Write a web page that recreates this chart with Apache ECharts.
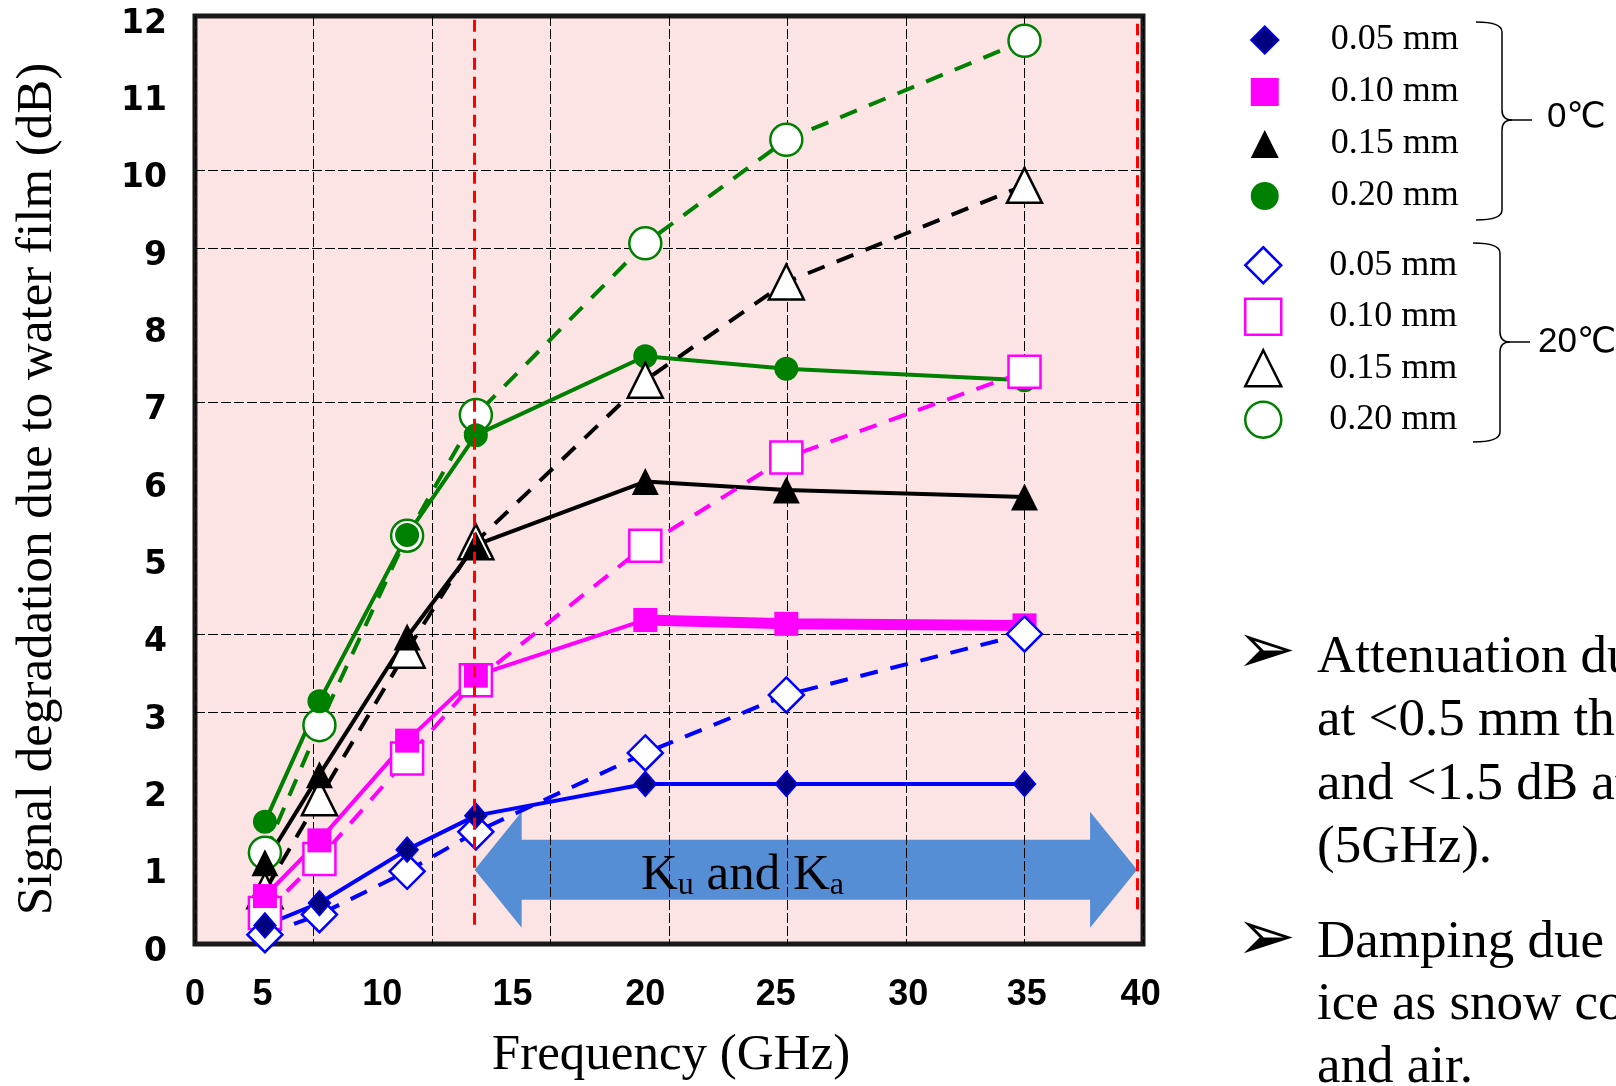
<!DOCTYPE html>
<html>
<head>
<meta charset="utf-8">
<script src="https://cdn.jsdelivr.net/npm/echarts@6/dist/echarts.min.js"></script>
<style>
  html, body { margin: 0; padding: 0; background: #fff; }
  #chart { width: 1616px; height: 1086px; }
</style>
</head>
<body>
<div id="chart"></div>
<script>
// horizontal place of the 7 measured frequencies on the (unevenly labelled) axis
const xPos = [2.95, 5.25, 8.95, 11.85, 19.0, 24.95, 35.0]
// tick labels as printed, and where they sit on the axis
const xTickPos = [0, 2.85, 7.9, 13.4, 19.0, 24.5, 30.1, 35.1, 39.9]
const xTickText = ['0', '5', '10', '15', '20', '25', '30', '35', '40']

// signal degradation (dB), water film at 0°C
const cold05 = [0.24, 0.53, 1.22, 1.66, 2.07, 2.07, 2.07]
const cold10 = [0.62, 1.34, 2.63, 3.47, 4.19, 4.14, 4.12]
const cold15 = [1.05, 2.19, 3.97, 5.16, 5.98, 5.87, 5.78]
const cold20 = [1.58, 3.14, 5.29, 6.58, 7.60, 7.44, 7.29]
// water film at 20°C
const warm05 = [0.12, 0.38, 0.94, 1.45, 2.47, 3.22, 4.01]
const warm10 = [0.40, 1.10, 2.40, 3.41, 5.15, 6.29, 7.40]
const warm15 = [0.69, 1.89, 3.80, 5.20, 7.29, 8.56, 9.81]
const warm20 = [1.18, 2.83, 5.28, 6.84, 9.06, 10.40, 11.68]

const yGridRows = [3, 4, 7, 9, 10] // only these horizontal grid lines are drawn
const kuKaEdges = [11.8, 39.75]     // red dashed limits of the Ku / Ka band
const arrowLevel = 0.96
const arrowTextAt = 23.1

const serif = '"Liberation Serif", "Times New Roman", serif'
const sans = '"Liberation Sans", Arial, sans-serif'

const chart = echarts.init(document.getElementById('chart'))

const pairs = vals => xPos.map((x, i) => [x, vals[i]])

// one line series; hollow markers get a white fill and coloured edge
function lineSeries(name, vals, color, symbol, size, hollow, dashed, fill) {
  return {
    name: name,
    type: 'line',
    data: pairs(vals),
    symbol: symbol,
    symbolSize: size,
    clip: false,
    z: 2,
    lineStyle: { color: color, width: 4, type: dashed ? [18, 13] : 'solid' },
    itemStyle: hollow
      ? { color: '#ffffff', borderColor: color, borderWidth: 2.5 }
      : { color: fill || color, borderColor: color, borderWidth: fill ? 1.5 : 0 },
    emphasis: { disabled: true }
  }
}

const series = [
  lineSeries('0.20 mm|20', warm20, '#008000', 'circle', 32, true, true),
  lineSeries('0.20 mm|0', cold20, '#008000', 'circle', 24, false, false),
  lineSeries('0.15 mm|20', warm15, '#000000', 'triangle', 35, true, true),
  lineSeries('0.15 mm|0', cold15, '#000000', 'triangle', 27, false, false),
  lineSeries('0.10 mm|20', warm10, '#ff00ff', 'rect', 32, true, true),
  {
    // thick part of the 0°C 0.10 mm curve (20 GHz onwards)
    type: 'line',
    data: pairs(cold10).slice(4),
    showSymbol: false,
    clip: false,
    z: 2,
    lineStyle: { color: '#ff00ff', width: 11 },
    emphasis: { disabled: true }
  },
  lineSeries('0.10 mm|0', cold10, '#ff00ff', 'rect', 24, false, false),
  lineSeries('0.05 mm|20', warm05, '#0000ff', 'diamond', 35, true, true),
  lineSeries('0.05 mm|0', cold05, '#0000ff', 'diamond', [22, 25], false, false, '#000080')
]

// horizontal grid lines
series[0].markLine = {
  silent: true,
  z: 1.5,
  symbol: 'none',
  label: { show: false },
  lineStyle: { color: '#000', width: 1, type: [10, 3] },
  data: yGridRows.map(v => ({ yAxis: v }))
}

// red band edges
series[series.length - 1].markLine = {
  silent: true,
  symbol: 'none',
  label: { show: false },
  lineStyle: { color: '#ff0000', width: 3, type: [12, 7] },
  data: [
    [{ coord: [kuKaEdges[0], 0.25] }, { coord: [kuKaEdges[0], 11.95] }],
    [{ coord: [kuKaEdges[1], 0.45] }, { coord: [kuKaEdges[1], 11.9] }]
  ]
}

// blue double arrow marking the Ku / Ka band
series.push({
  type: 'custom',
  silent: true,
  z: 1,
  data: [[kuKaEdges[0], kuKaEdges[1], arrowLevel]],
  renderItem: function (params, api) {
    const a = api.coord([api.value(0), api.value(2)])
    const b = api.coord([api.value(1), api.value(2)])
    const y = a[1]
    const body = 30, head = 58, hl = 47
    const pts = [
      [a[0], y], [a[0] + hl, y - head], [a[0] + hl, y - body],
      [b[0] - hl, y - body], [b[0] - hl, y - head], [b[0], y],
      [b[0] - hl, y + head], [b[0] - hl, y + body],
      [a[0] + hl, y + body], [a[0] + hl, y + head]
    ]
    const t = api.coord([arrowTextAt, api.value(2)])
    return {
      type: 'group',
      children: [
        { type: 'polygon', shape: { points: pts }, style: { fill: '#558ed5' } },
        {
          type: 'text',
          x: t[0],
          y: t[1] + 6,
          style: {
            text: '{m|K}{s|u}{m| and K}{s|a}',
            align: 'center',
            verticalAlign: 'middle',
            fill: '#000',
            rich: {
              m: { fontSize: 51, fontFamily: serif, color: '#000', verticalAlign: 'bottom', lineHeight: 51 },
              s: { fontSize: 32, fontFamily: serif, color: '#000', verticalAlign: 'bottom', lineHeight: 51 }
            }
          }
        }
      ]
    }
  }
})

// right curly brace built from lines and curves
function brace(xEnd, xLine, yTop, yMid, yBot, xTip) {
  const st = { stroke: '#000', lineWidth: 1.5, fill: null }
  return [
    { type: 'bezierCurve', shape: { x1: xEnd, y1: yTop, x2: xLine, y2: yTop + 10, cpx1: xLine, cpy1: yTop }, style: st },
    { type: 'line', shape: { x1: xLine, y1: yTop + 10, x2: xLine, y2: yMid - 10 }, style: st },
    { type: 'bezierCurve', shape: { x1: xLine, y1: yMid - 10, x2: xLine + 10, y2: yMid, cpx1: xLine, cpy1: yMid }, style: st },
    { type: 'line', shape: { x1: xLine + 10, y1: yMid, x2: xTip, y2: yMid }, style: st },
    { type: 'bezierCurve', shape: { x1: xLine + 10, y1: yMid, x2: xLine, y2: yMid + 10, cpx1: xLine, cpy1: yMid }, style: st },
    { type: 'line', shape: { x1: xLine, y1: yMid + 10, x2: xLine, y2: yBot - 10 }, style: st },
    { type: 'bezierCurve', shape: { x1: xLine, y1: yBot - 10, x2: xEnd, y2: yBot, cpx1: xLine, cpy1: yBot }, style: st }
  ]
}

function label(text, x, y, font, align) {
  return {
    type: 'text', x: x, y: y,
    style: {
      text: text, font: font, fill: '#000',
      align: align, verticalAlign: 'middle', textAlign: align, textVerticalAlign: 'middle'
    }
  }
}

// legend text pushed away from the marker by an empty rich token
function legendFor(left, top, size, gap, push, items) {
  return {
    orient: 'vertical', left: left, top: top, padding: 0,
    itemWidth: size, itemHeight: size, itemGap: gap,
    selectedMode: false,
    textStyle: {
      rich: {
        g: { width: push, fontSize: 36, fontFamily: serif },
        t: { fontFamily: serif, fontSize: 36, color: '#000' }
      }
    },
    formatter: n => '{g| }{t|' + n.split('|')[0] + '}',
    data: items
  }
}

const yTitle = label('Signal degradation due to water film (dB)', 38, 489, '51px ' + serif, 'center')
yTitle.rotation = Math.PI / 2

const notes = [
  ['Attenuation due', 658], ['at <0.5 mm th', 721], ['and <1.5 dB at', 785], ['(5GHz).', 848],
  ['Damping due', 943], ['ice as snow con', 1005], ['and air.', 1068]
].map(l => label(l[0], 1317, l[1], '53px ' + serif, 'left'))

const option = {
  animation: false,
  backgroundColor: '#ffffff',
  grid: {
    left: 195, top: 16, width: 948, height: 928,
    show: true,
    backgroundColor: '#fde4e4',
    borderColor: '#1a1a1a',
    borderWidth: 5,
    outerBoundsMode: 'none'
  },
  xAxis: {
    type: 'value',
    min: 0, max: 40, interval: 5,
    z: 1.5,
    axisLine: { show: false },
    axisTick: { show: false },
    splitLine: { show: true, lineStyle: { color: '#000', width: 1, type: [10, 3] } },
    axisLabel: {
      customValues: xTickPos,
      formatter: function (v) {
        const i = xTickPos.indexOf(v)
        return i >= 0 ? xTickText[i] : ''
      },
      margin: 33,
      color: '#000',
      fontSize: 36,
      fontWeight: 'bold',
      fontFamily: sans
    }
  },
  yAxis: {
    type: 'value',
    min: 0, max: 12, interval: 1,
    axisLine: { show: false },
    axisTick: { show: false },
    splitLine: { show: false },
    axisLabel: {
      margin: 28,
      formatter: v => '{a|' + v + '}',
      rich: {
        a: {
          padding: [16, 0, 0, 0],
          color: '#000', fontSize: 33, fontWeight: 'bold', fontFamily: '"DejaVu Sans", sans-serif'
        }
      }
    }
  },
  legend: [
    legendFor(1250, 22, 28, 16, 47, [
      { name: '0.05 mm|0', icon: 'diamond', itemStyle: { color: '#000080', borderColor: '#0000ff', borderWidth: 1.5 } },
      { name: '0.10 mm|0', icon: 'rect', itemStyle: { color: '#ff00ff', borderWidth: 0 } },
      { name: '0.15 mm|0', icon: 'triangle', itemStyle: { color: '#000000', borderWidth: 0 } },
      { name: '0.20 mm|0', icon: 'circle', itemStyle: { color: '#008000', borderWidth: 0 } }
    ]),
    legendFor(1244, 246, 36, 13, 43, [
      { name: '0.05 mm|20', icon: 'diamond', itemStyle: { color: '#ffffff', borderColor: '#0000ff', borderWidth: 2.5 } },
      { name: '0.10 mm|20', icon: 'rect', itemStyle: { color: '#ffffff', borderColor: '#ff00ff', borderWidth: 2.5 } },
      { name: '0.15 mm|20', icon: 'triangle', itemStyle: { color: '#ffffff', borderColor: '#000000', borderWidth: 2.5 } },
      { name: '0.20 mm|20', icon: 'circle', itemStyle: { color: '#ffffff', borderColor: '#008000', borderWidth: 2.5 } }
    ])
  ],
  graphic: [
    yTitle,
    label('Frequency (GHz)', 671, 1056, '51px ' + serif, 'center'),
    label('0℃', 1547, 117, '35px "Liberation Sans", "DejaVu Sans", sans-serif', 'left'),
    label('20℃', 1538, 342, '35px "Liberation Sans", "DejaVu Sans", sans-serif', 'left'),
    label('➢', 1266, 654, '72px "DejaVu Sans", sans-serif', 'center'),
    label('➢', 1266, 941, '72px "DejaVu Sans", sans-serif', 'center')
  ].concat(brace(1476, 1502, 22, 120, 220, 1532))
   .concat(brace(1473, 1500, 243, 342, 442, 1530))
   .concat(notes),
  series: series
}

chart.setOption(option)
</script>
</body>
</html>
